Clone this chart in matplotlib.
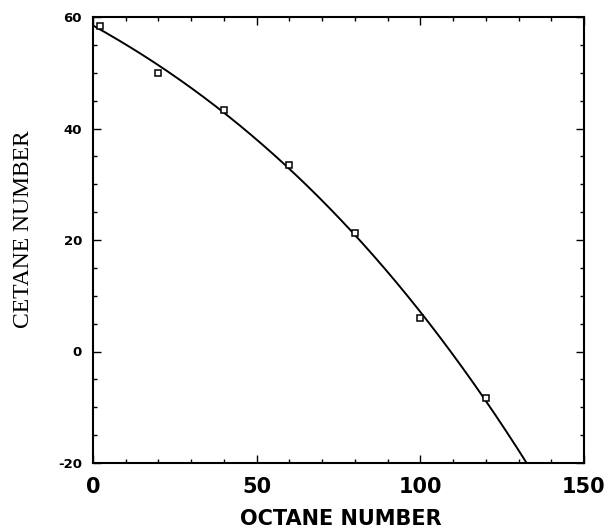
import numpy as np
import matplotlib
matplotlib.use("Agg")
import matplotlib.pyplot as plt
from matplotlib.ticker import MultipleLocator

plt.rcParams["axes.unicode_minus"] = False

# Measured blend data
octane = [2, 20, 40, 60, 80, 100, 120]
cetane = [58.4, 50, 43.3, 33.4, 21.2, 6, -8.4]

x_ticks = [0, 50, 100, 150]
y_ticks = [-20, 0, 20, 40, 60]

W, H = 609, 531
fig = plt.figure(figsize=(W / 100, H / 100), dpi=100)
ax = fig.add_axes([93 / W, (H - 463) / H, 491 / W, 446 / H])

# Polynomial correlation through the measured points
coef = np.polyfit(octane, cetane, 3)
xs = np.linspace(0, 150, 400)
ys = np.polyval(coef, xs)
ax.plot(xs, ys, color="black", lw=1.4, zorder=2)

ax.plot(octane, cetane, linestyle="none", marker="s", markersize=5,
        markerfacecolor="white", markeredgecolor="black", markeredgewidth=1.1,
        zorder=3, clip_on=False)

ax.set_xlim(0, 150)
ax.set_ylim(-20, 60)
ax.set_xticks(x_ticks)
ax.set_yticks(y_ticks)
ax.xaxis.set_minor_locator(MultipleLocator(10))
ax.yaxis.set_minor_locator(MultipleLocator(5))
ax.tick_params(which="both", direction="in", top=True, right=True, width=1.0)
ax.tick_params(which="major", length=6)
ax.tick_params(which="minor", length=3)
ax.tick_params(axis="x", which="major", pad=10)
ax.tick_params(axis="y", which="major", pad=8)

for lab in ax.get_xticklabels():
    lab.set_fontsize(15)
    lab.set_fontweight("bold")
for lab in ax.get_yticklabels():
    lab.set_fontsize(9.5)
    lab.set_fontweight("bold")

for sp in ax.spines.values():
    sp.set_linewidth(1.5)

fig.text(341 / W, (H - 519) / H, "OCTANE NUMBER", fontsize=15,
         fontweight="bold", ha="center", va="center")
fig.text(24 / W, (H - 229) / H, "CETANE NUMBER", fontsize=17,
         family="Liberation Serif", rotation=90, ha="center", va="center")

fig.savefig("out.png", dpi=100)
